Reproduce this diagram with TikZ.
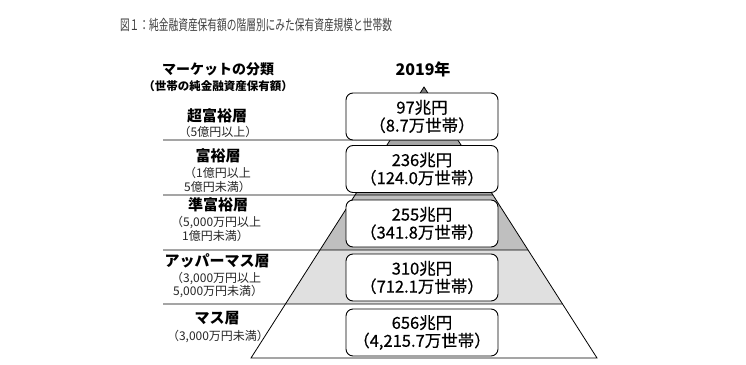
\documentclass[tikz,border=0pt]{standalone}
\usepackage{fontspec}
\setmainfont{Noto Sans CJK JP}
\newfontfamily\medfont{Noto Sans CJK JP}[FakeBold=0.5]
\usetikzlibrary{calc}
\definecolor{tierA}{HTML}{808080}
\definecolor{tierB}{HTML}{A6A6A6}
\definecolor{tierC}{HTML}{BFBFBF}
\definecolor{tierD}{HTML}{E0E0E0}
\definecolor{titlegray}{HTML}{404040}
\tikzset{
  valbox/.style={draw=black, line width=0.9pt, rounded corners=7pt, fill=white,
    minimum width=152pt, minimum height=47pt, align=center, inner sep=0pt,
    font=\medfont\fontsize{16.5}{18}\selectfont},
  tiername/.style={font=\bfseries\fontsize{15}{16}\selectfont, inner sep=0pt},
  tiersub/.style={font=\fontsize{12}{13}\selectfont, text=black!85, inner sep=0pt},
  tierline/.style={line width=0.9pt, draw=black},
  pyredge/.style={line width=0.8pt, draw=black}
}
\begin{document}
\begin{tikzpicture}[x=1pt,y=-1pt]
\useasboundingbox (0,0) rectangle (746,364);
% title
\node[inner sep=0pt, text=titlegray] (title) at (256,25)
  {\resizebox{272pt}{\height}{\fontsize{14.5}{16}\selectfont 図１：純金融資産保有額の階層別にみた保有資産規模と世帯数}};
% pyramid
\coordinate (A) at (424,87);
\coordinate (L) at (251,358);
\coordinate (R) at (597,358);
\begin{scope}
  \clip (A) -- (L) -- (R) -- cycle;
  \fill[tierA] (0,0) rectangle (746,140);
  \fill[tierB] (0,140) rectangle (746,195);
  \fill[tierC] (0,195) rectangle (746,250);
  \fill[tierD] (0,250) rectangle (746,304);
\end{scope}
\draw[pyredge] (A) -- (L) -- (R) -- cycle;
% tier boundary lines
\coordinate (s1) at (163,140);
\coordinate (s2) at (163,195);
\coordinate (s3) at (163,250);
\coordinate (s4) at (163,304);
\coordinate (e1) at ($(A)!{53/271}!(R)$);
\coordinate (e2) at ($(A)!{108/271}!(R)$);
\coordinate (e3) at ($(A)!{163/271}!(R)$);
\coordinate (e4) at ($(A)!{217/271}!(R)$);
\draw[tierline] (s1) -- (e1);
\draw[tierline] (s2) -- (e2);
\draw[tierline] (s3) -- (e3);
\draw[tierline] (s4) -- (e4);
% value boxes
\node[valbox] (b1) at (422,116.5) {97兆円\\（8.7万世帯）};
\node[valbox] (b2) at (422,169) {236兆円\\（124.0万世帯）};
\node[valbox] (b3) at (422,223.5) {255兆円\\（341.8万世帯）};
\node[valbox] (b4) at (422,277.5) {310兆円\\（712.1万世帯）};
\node[valbox] (b5) at (422,332.5) {656兆円\\（4,215.7万世帯）};
% headers
\node[inner sep=0pt, font=\bfseries\fontsize{14}{16}\selectfont] (h1) at (218,69) {マーケットの分類};
\node[inner sep=0pt, font=\bfseries\fontsize{11.5}{12}\selectfont] (h2) at (218,86) {（世帯の純金融資産保有額）};
\node[inner sep=0pt, font=\bfseries\fontsize{16}{18}\selectfont] (h3) at (423,69) {2019年};
% tier labels
\node[tiername] (t1) at (217,116) {超富裕層};
\node[tiersub] (t1a) at (218,132) {（5億円以上）};
\node[tiername] (t2) at (218,156) {富裕層};
\node[tiersub, anchor=west] (t2a) at (184,173) {（1億円以上};
\node[tiersub, anchor=west] (t2b) at (184,187) {5億円未満）};
\node[tiername] (t3) at (218,205) {準富裕層};
\node[tiersub, anchor=west] (t3a) at (171,222) {（5,000万円以上};
\node[tiersub, anchor=west] (t3b) at (182,236) {1億円未満）};
\node[tiername] (t4) at (217,261) {アッパーマス層};
\node[tiersub, anchor=west] (t4a) at (171,278) {（3,000万円以上};
\node[tiersub, anchor=west] (t4b) at (173,291) {5,000万円未満）};
\node[tiername] (t5) at (217,318) {マス層};
\node[tiersub] (t5a) at (218,336) {（3,000万円未満）};
\end{tikzpicture}
\end{document}
